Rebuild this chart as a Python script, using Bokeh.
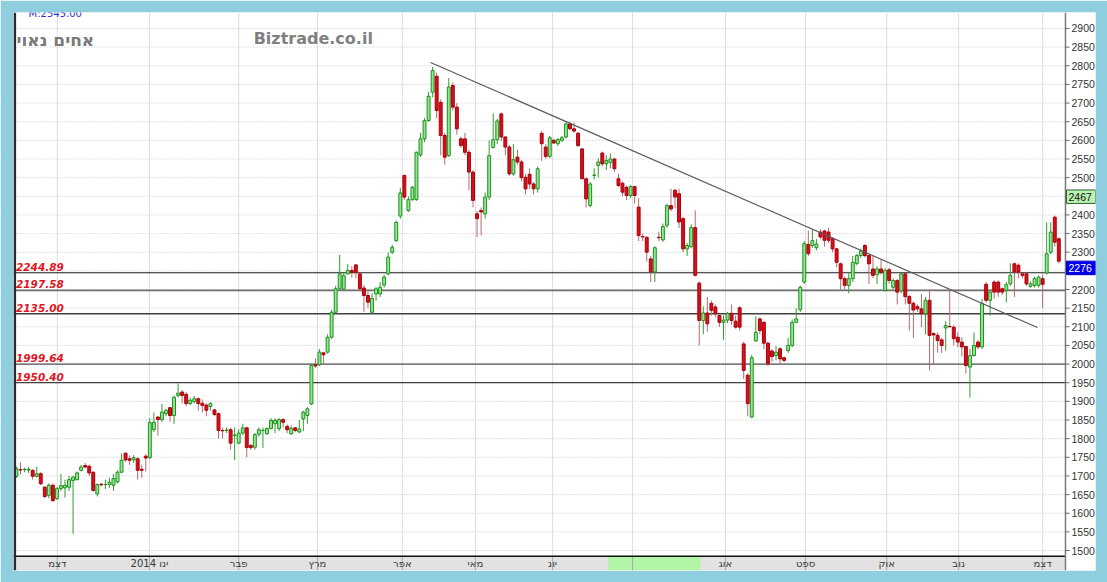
import numpy as np
from bokeh.plotting import figure
from bokeh.models import ColumnDataSource
from bokeh.core.properties import value
from bokeh.embed import file_html
from bokeh.resources import INLINE

# ---------------- data ----------------
opens = [1699,1717,1717,1716,1715,1699,1706,1670,1648,1675,1639,1666,1668,1670,1688,1690,1715,1728,1726,1710,
         1652,1678,1677,1677,1675,1684,1710,1761,1746,1743,1746,1718,1753,1749,1824,1858,1851,1867,1883,
         1862,1916,1925,1919,1894,1899,1907,1895,1890,1886,1877,1867,1822,1822,1824,1808,1788,1815,1829,1782,
         1777,1812,1822,1813,1827,1840,1827,1851,1833,1813,1829,1818,
         1853,1862,1893,1998,1998,2030,2032,2072,2139,2202,2201,2242,2251,2266,2242,2204,2184,2139,2188,2188,
         2212,2242,2300,2331,2397,2506,2412,2441,2441,2561,2604,2653,2729,2772,2702,2613,2559,2747,2689,2604,2604,
         2568,2515,2403,2412,2403,2448,2581,2602,2671,2609,2582,2510,2555,2542,2501,2509,2483,2470,2619,2582,
         2557,2600,2591,2600,2609,2644,2631,2619,2577,2497,2425,2506,2533,2566,2537,2541,2550,2497,
         2485,2474,2452,2476,2421,2342,2340,2282,2247,2340,2333,2372,2425,2466,2457,2390,2309,2315,2366,2217,
         2117,2137,2163,2153,2130,2112,2118,2136,2115,2151,2054,1970,1858,2062,2121,2112,2056,
         2035,2023,2041,2017,2036,2050,2112,2146,2220,2321,2318,2312,2354,2357,2354,2336,2309,2269,2229,2211,
         2229,2270,2291,2318,2291,2255,2240,2255,2197,2253,2206,2224,2196,2242,2181,2163,
         2154,2148,2135,2171,2082,2077,2065,2097,2101,2099,2072,2059,2047,1992,2023,2059,2046,2214,2171,2220,
         2220,2202,2197,2215,2269,2265,2242,2242,2208,2211,2211,2229,2244,2300,2394,2336]
highs = [1725,1737,1722,1725,1718,1725,1710,1672,1680,1680,1670,1705,1690,1700,1700,1712,1730,1735,1730,1712,
         1680,1680,1690,1695,1705,1715,1760,1763,1755,1756,1750,1730,1758,1855,1870,1860,1893,1880,1885,
         1915,1948,1930,1925,1910,1915,1910,1905,1895,1898,1880,1870,1830,1830,1830,1830,1825,1840,1832,1785,
         1815,1830,1830,1830,1855,1855,1855,1855,1838,1835,1832,1850,
         1875,1885,2000,2015,2040,2033,2080,2145,2210,2293,2245,2268,2262,2268,2245,2212,2195,2190,2207,2220,
         2240,2300,2320,2385,2473,2508,2450,2478,2570,2620,2660,2730,2797,2782,2710,2620,2767,2755,2700,2610,2620,
         2575,2520,2410,2420,2460,2600,2672,2658,2675,2612,2588,2590,2575,2547,2510,2525,2488,2530,2625,2590,
         2612,2605,2606,2612,2648,2650,2648,2622,2580,2500,2488,2525,2552,2570,2560,2565,2553,2510,
         2490,2478,2480,2478,2445,2350,2342,2290,2316,2355,2377,2430,2470,2470,2470,2395,2325,2375,2412,2222,
         2155,2180,2170,2160,2135,2130,2140,2160,2130,2155,2060,1975,2025,2128,2125,2115,2060,
         2040,2048,2045,2020,2070,2120,2150,2210,2330,2358,2360,2335,2362,2360,2365,2340,2312,2272,2235,2245,
         2290,2295,2310,2322,2295,2290,2262,2280,2258,2258,2230,2228,2246,2245,2185,2168,
         2160,2188,2180,2200,2085,2085,2070,2115,2197,2105,2085,2072,2050,2040,2085,2065,2175,2220,2200,2225,
         2225,2205,2220,2270,2272,2270,2245,2245,2222,2235,2238,2240,2380,2380,2398,2340]
lows = [1695,1704,1710,1708,1690,1696,1676,1640,1640,1630,1636,1660,1642,1660,1545,1688,1712,1720,1700,1658,
        1645,1672,1665,1668,1660,1680,1708,1738,1730,1735,1690,1695,1712,1745,1818,1808,1845,1860,1845,
        1840,1910,1895,1887,1890,1895,1875,1870,1860,1875,1860,1800,1800,1815,1770,1742,1785,1810,1750,1770,
        1770,1805,1775,1810,1825,1815,1820,1830,1815,1810,1818,1815,
        1820,1840,1890,1990,1995,2000,2028,2068,2135,2200,2198,2240,2232,2230,2195,2140,2150,2135,2170,2180,
        2205,2238,2295,2328,2390,2440,2408,2438,2438,2555,2595,2650,2715,2660,2560,2535,2555,2680,2615,2580,2560,
        2466,2420,2340,2345,2390,2440,2578,2590,2598,2560,2505,2505,2535,2490,2455,2470,2455,2460,2545,2550,
        2552,2590,2585,2596,2605,2628,2620,2582,2495,2420,2420,2495,2500,2530,2520,2525,2515,2475,
        2450,2440,2445,2430,2330,2330,2275,2220,2220,2330,2328,2365,2410,2418,2365,2300,2290,2310,2235,2050,
        2080,2087,2130,2125,2100,2065,2110,2105,2095,2090,1960,1860,1855,2060,2080,2040,1995,
        2005,2010,2000,2005,2030,2045,2110,2140,2215,2290,2312,2305,2335,2315,2325,2300,2260,2200,2200,2190,
        2220,2265,2285,2286,2215,2230,2215,2240,2195,2215,2200,2160,2190,2160,2090,2070,
        2140,2099,2080,1983,2000,2030,2030,2036,2099,2050,2045,2020,1975,1910,2020,2040,2040,2165,2130,2175,
        2180,2185,2165,2210,2180,2230,2230,2210,2205,2205,2205,2150,2240,2295,2315,2270]
closes = [1719,1716,1718,1718,1699,1706,1679,1645,1675,1634,1666,1674,1675,1690,1697,1708,1724,1724,1708,1661,
          1677,1676,1677,1683,1693,1710,1742,1743,1742,1749,1715,1715,1748,1843,1844,1851,1871,1876,1862,
          1911,1922,1916,1894,1903,1907,1894,1889,1876,1894,1865,1822,1821,1823,1788,1810,1815,1829,1776,1776,
          1811,1824,1822,1827,1849,1849,1851,1844,1824,1828,1822,1826,
          1871,1880,1996,1995,2032,2025,2072,2139,2202,2242,2237,2251,2246,2246,2202,2184,2166,2176,2202,2206,
          2233,2287,2313,2380,2459,2448,2441,2474,2568,2604,2653,2718,2787,2680,2613,2555,2743,2689,2631,2586,2568,
          2515,2439,2390,2408,2448,2559,2602,2652,2609,2582,2510,2548,2542,2500,2470,2483,2470,2524,2591,2557,
          2607,2593,2602,2607,2644,2631,2625,2586,2497,2443,2483,2507,2542,2537,2546,2550,2524,2479,
          2461,2452,2476,2452,2345,2341,2300,2247,2312,2339,2369,2425,2416,2448,2381,2309,2318,2366,2238,2117,
          2137,2108,2144,2135,2112,2118,2136,2117,2099,2099,1983,1894,2017,2085,2090,2056,2001,
          2020,2032,2014,2010,2050,2112,2121,2206,2323,2296,2331,2322,2341,2332,2332,2309,2273,2229,2211,2229,
          2273,2291,2303,2291,2269,2238,2255,2246,2251,2224,2224,2193,2242,2181,2163,2145,
          2148,2135,2171,2077,2078,2063,2050,2103,2100,2068,2059,2046,1996,2023,2050,2046,2162,2171,2193,2193,
          2193,2193,2213,2238,2247,2247,2238,2215,2215,2229,2233,2214,2296,2354,2327,2276]

month_pos = [10.1, 32.9, 55.0, 74.5, 95.5, 113.6, 132.7, 152.5, 175.5, 195.3, 215.4, 233.2, 254.0]
month_labels = ["דצמ", "ינו 2014", "פבר", "מרץ", "אפר", "מאי", "יונ", "", "אוג", "ספט", "אוק", "נוב", "דצמ"]
price_ticks = list(range(1500, 2950, 50))
levels = [2244.89, 2197.58, 2135.00, 1999.64, 1950.40]
level_text = ["2244.89", "2197.58", "2135.00", "1999.64", "1950.40"]
level_colors = ["#1c1c1c", "#707070", "#404040", "#505050", "#404040"]
level_widths = [1.2, 1.8, 1.3, 1.3, 1.3]
trend_x = [102.5, 252.7]
trend_y = [2809, 2098]
marker_price = 2467
last_price = 2276
highlight_span = [146.5, 169.3]   # green block in the date strip

BLUE = "#8ECEDF"

# ---------------- scales (one index step = one trading day) ----------------
X0, X1 = -0.7426, 267.08          # whole white area, price strip included
XP = 259.65                        # right edge of the price pane
Y0, Y1 = 1446.4, 2942.9            # whole white area, date strip included
YP = 1484.4                        # bottom edge of the price pane
U = 2.682                          # price units per pixel
D = 1 / 4.04                       # index units per pixel

n = len(closes)
idx = np.arange(n)
o = np.array(opens, dtype=float)
c = np.array(closes, dtype=float)
up = c >= o
src = ColumnDataSource(dict(
    x=idx, h=highs, l=lows,
    top=np.maximum(o, c), bottom=np.minimum(o, c),
    fill=np.where(up, "#92E892", "#D4101C"),
    line=np.where(up, "#1F8F1F", "#A8000C"),
    wick=np.where(up, "#2E9E2E", "#B86A6A"),
))

p = figure(width=1107, height=582, output_backend="svg", toolbar_location=None,
           x_range=(X0, X1), y_range=(Y0, Y1),
           x_axis_location=None, y_axis_location=None,
           min_border_left=13, min_border_top=12, min_border_right=12, min_border_bottom=12,
           background_fill_color="white", border_fill_color=BLUE, outline_line_color=None)
p.grid.visible = False

# date strip (grey band) and highlight block
p.quad(left=[X0], right=[XP], bottom=[Y0], top=[YP], fill_color="#E2E2E2", line_color=None)
p.quad(left=[highlight_span[0]], right=[highlight_span[1]], bottom=[Y0], top=[YP],
       fill_color="#B2F5A6", line_color=None)

# grid lines
p.segment(x0=[X0] * len(price_ticks), y0=price_ticks, x1=[XP] * len(price_ticks), y1=price_ticks,
          line_color="#C4C4C4", line_width=1, line_dash="1 2")
p.segment(x0=month_pos, y0=[YP] * len(month_pos), x1=month_pos, y1=[Y1] * len(month_pos),
          line_color="#BBBBBB", line_width=1, line_dash="1 1")
p.segment(x0=month_pos, y0=[Y0] * len(month_pos), x1=month_pos, y1=[YP] * len(month_pos),
          line_color="#A8A8A8", line_width=1)

# horizontal support/resistance levels
p.segment(x0=[X0] * len(levels), y0=levels, x1=[XP] * len(levels), y1=levels,
          line_color=level_colors, line_width=level_widths)

# candles
p.segment(x0="x", y0="l", x1="x", y1="h", line_color="wick", line_width=1, source=src)
p.vbar(x="x", width=0.72, top="top", bottom="bottom", fill_color="fill",
       line_color="line", line_width=1, source=src)

# trend line
p.line(trend_x, trend_y, line_color="#5a5a5a", line_width=1.2)

# frame lines
p.segment(x0=[X0], y0=[YP], x1=[XP], y1=[YP], line_color="#111111", line_width=1.5)
p.segment(x0=[XP], y0=[Y0], x1=[XP], y1=[Y1], line_color="#7a7a7a", line_width=1.5)
p.segment(x0=[X0 + 1.3 * D], y0=[Y0], x1=[X0 + 1.3 * D], y1=[Y1], line_color="#2b2b2b", line_width=2.6)

# price scale (right)
p.segment(x0=[XP] * len(price_ticks), y0=price_ticks, x1=[XP + 4 * D] * len(price_ticks), y1=price_ticks,
          line_color="#666666", line_width=1)
p.text(x=[XP + 6 * D] * len(price_ticks), y=price_ticks, text=[str(t) for t in price_ticks],
       text_font=value("Liberation Sans"), text_font_size="10.5px", text_color="#333333",
       text_baseline="middle", text_align="left")

# boxed prices on the scale
p.quad(left=[XP + 1 * D], right=[X1], top=[marker_price], bottom=[marker_price - 13.5 * U],
       fill_color="#B6F2B0", line_color="#2E5E2E", line_width=1)
p.text(x=[XP + 3 * D], y=[marker_price - 6.8 * U], text=[str(marker_price)],
       text_font=value("Liberation Sans"), text_font_size="10.5px", text_color="#111111",
       text_baseline="middle", text_align="left")
p.quad(left=[XP + 1 * D], right=[X1], top=[last_price], bottom=[last_price - 13.5 * U],
       fill_color="#0000F0", line_color="#0000C0", line_width=1)
p.text(x=[XP + 3 * D], y=[last_price - 6.8 * U], text=[str(last_price)],
       text_font=value("Liberation Sans"), text_font_size="10.5px", text_color="white",
       text_baseline="middle", text_align="left")

# month labels in the date strip
p.text(x=month_pos, y=[(Y0 + YP) / 2] * len(month_pos), text=month_labels,
       text_font=value("DejaVu Sans"), text_font_size="10px", text_color="#3a3a3a",
       text_baseline="middle", text_align="center")

# level labels
p.text(x=[X0 + 2.5 * D] * len(levels), y=[v + 2 * U for v in levels], text=level_text,
       text_font=value("DejaVu Sans"), text_font_style="bold italic",
       text_font_size="10.5px", text_color="#E0141E", text_baseline="bottom", text_align="left")

# titles
p.text(x=[0.0], y=[2868], text=["אחים נאוי"], text_font=value("DejaVu Sans"),
       text_font_style="bold", text_font_size="17px", text_color="#7a7a7a",
       text_baseline="middle", text_align="left")
p.text(x=[58.7], y=[2873], text=["Biztrade.co.il"], text_font=value("DejaVu Sans"),
       text_font_style="bold", text_font_size="16px", text_color="#808080",
       text_baseline="middle", text_align="left")
p.text(x=[3.0], y=[2941], text=["M:2545.00"], text_font=value("DejaVu Sans"),
       text_font_size="10px", text_color="#3030C8", text_baseline="middle", text_align="left")

open("out.html", "w").write(file_html(p, INLINE))
